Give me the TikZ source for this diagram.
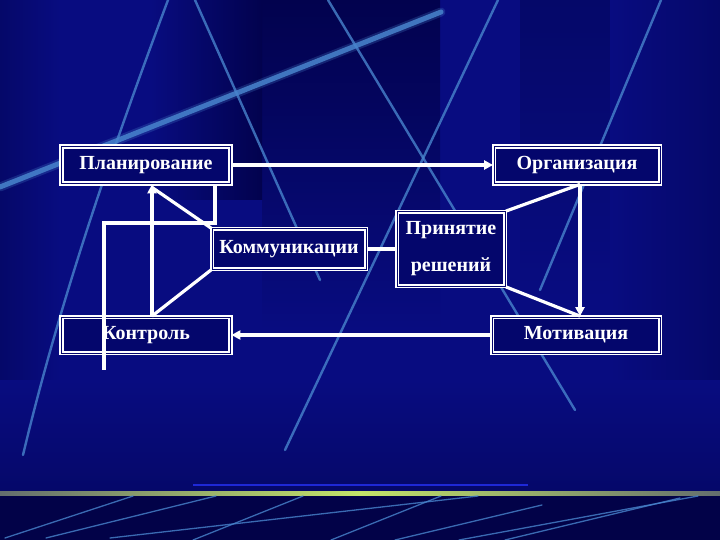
\documentclass[tikz,border=0pt]{standalone}
\usepackage{fontspec}
\setmainfont{Liberation Serif}
\usetikzlibrary{arrows.meta}
\definecolor{bgblue}{RGB}{8,12,128}
\definecolor{bgdark}{RGB}{2,2,78}
\definecolor{bgmid}{RGB}{5,8,105}
\definecolor{boxfill}{RGB}{4,6,108}
\definecolor{streak}{RGB}{72,132,205}
\definecolor{limeline}{RGB}{195,228,105}
\definecolor{edgegray}{RGB}{100,110,110}
\definecolor{thinblue}{RGB}{30,40,215}
\definecolor{bottomdark}{RGB}{2,2,72}
\begin{document}
\begin{tikzpicture}[x=1pt,y=-1pt,
  box/.style={draw=white, line width=1.8pt, double=boxfill, double distance=1pt,
    fill=boxfill, inner sep=0pt, text=white, align=center,
    font=\fontsize{20}{24}\selectfont\bfseries},
  conn/.style={draw=white, line width=3.2pt},
  arr/.style={conn, -{Triangle[length=9pt,width=9pt]}},
  streakline/.style={draw=streak, line cap=round, opacity=0.8, line width=2.4pt},
  thinstreak/.style={draw=streak, line cap=round, opacity=0.8, line width=1.3pt}]
\useasboundingbox (0,0) rectangle (720,540);
% ---------- background ----------
\fill[bgblue] (0,0) rectangle (720,540);
\shade[top color=bgdark, bottom color=bgblue] (262,0) rectangle (440,330);
\shade[left color=bgblue, right color=bgdark] (150,0) rectangle (262,200);
\shade[top color=bgmid, bottom color=bgblue] (520,0) rectangle (610,300);
\shade[left color=bgmid, right color=bgblue] (0,0) rectangle (60,495);
\shade[left color=bgblue, right color=bgmid] (610,0) rectangle (720,495);
\shade[top color=bgblue, bottom color=bgmid] (0,380) rectangle (720,495);
% upper streaks
\draw[streakline, line width=9pt, opacity=0.25] (441,12) -- (0,187);
\draw[streakline, line width=5pt, opacity=0.85] (441,12) -- (0,187);
\draw[streakline] (168,0) .. controls (112,150) and (60,300) .. (23,455);
\draw[streakline] (195,0) -- (320,280);
\draw[streakline] (328,0) -- (575,410);
\draw[streakline] (498,0) -- (285,450);
\draw[streakline] (661,0) -- (540,290);
% bottom band
\fill[bottomdark] (0,495) rectangle (720,540);
\draw[thinblue, line width=1.6pt] (193,485) -- (528,485);
\shade[left color=edgegray, right color=edgegray, middle color=limeline] (0,491.5) rectangle (720,495);
\draw[thinstreak] (5,538) -- (133,496);
\draw[thinstreak] (46,538) -- (216,496);
\draw[thinstreak] (110,538) -- (478,496);
\draw[thinstreak] (193,540) -- (303,496);
\draw[thinstreak] (331,540) -- (441,496);
\draw[thinstreak] (395,540) -- (542,505);
\draw[thinstreak] (459,540) -- (698,496);
\draw[thinstreak] (505,540) -- (680,498);
% ---------- nodes ----------
\node[box, minimum width=169pt, minimum height=37pt] (plan) at (146,165) {Планирование};
\node[box, minimum width=166pt, minimum height=37pt] (org) at (577,165) {Организация};
\node[box, minimum width=154pt, minimum height=40pt] (komm) at (289,249) {Коммуникации};
\node[box, minimum width=108pt, minimum height=74pt] (prin) at (451,249)
  {Принятие\\[13pt]решений};
\node[box, minimum width=169pt, minimum height=36pt] (kontr) at (146,335) {Контроль};
\node[box, minimum width=168pt, minimum height=36pt] (motiv) at (576,335) {Мотивация};
% ---------- helper coordinates ----------
\coordinate (Lx) at (152,0);
\coordinate (Rx) at (580,0);
\coordinate (Fx) at (215,0);
\coordinate (corner) at (104,223);
\coordinate (loopend) at (104,370);
% ---------- connectors ----------
\draw[arr] (plan.east) -- (org.west);
\draw[arr] (motiv.west) -- (kontr.east);
\draw[conn] (komm.east) -- (prin.west);
\draw[arr] (kontr.north -| Lx) -- (plan.south -| Lx);
\draw[conn] (plan.south -| Lx) ++(0,3) -- (komm.north west);
\draw[conn] (komm.south west) -- (kontr.north -| Lx);
\draw[arr] (org.south -| Rx) -- (motiv.north -| Rx);
\draw[conn] (org.south -| Rx) -- (prin.north east);
\draw[conn] (prin.south east) -- (motiv.north -| Rx);
\draw[conn] (plan.south -| Fx) |- (corner) -- (loopend);
\end{tikzpicture}
\end{document}
